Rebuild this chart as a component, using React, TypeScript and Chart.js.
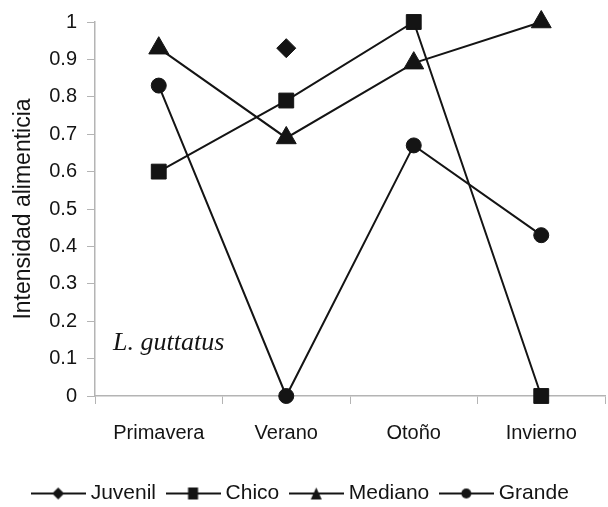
import React, { useEffect, useRef } from "react";
import { Chart, registerables } from "chart.js";

Chart.register(...registerables);

const categories = ["Primavera", "Verano", "Otoño", "Invierno"];
const juvenil = [null, 0.93, null, null];
const chico = [0.6, 0.79, 1.0, 0.0];
const mediano = [0.93, 0.69, 0.89, 1.0];
const grande = [0.83, 0.0, 0.67, 0.43];
const yTickLabels = ["0", "0.1", "0.2", "0.3", "0.4", "0.5", "0.6", "0.7", "0.8", "0.9", "1"];
const seriesNames = ["Juvenil", "Chico", "Mediano", "Grande"];
const speciesLabel = "L. guttatus";
const yTitle = "Intensidad alimenticia";

const INK = "#141414";
const AXIS = "#b4b4b4";
const FONT = "'Liberation Sans', Arial, sans-serif";

function makeIcon(kind: string): HTMLCanvasElement {
  const c = document.createElement("canvas");
  c.width = 55;
  c.height = 20;
  const ctx = c.getContext("2d")!;
  ctx.strokeStyle = INK;
  ctx.fillStyle = INK;
  ctx.lineWidth = 2;
  ctx.beginPath();
  ctx.moveTo(0, 10);
  ctx.lineTo(55, 10);
  ctx.stroke();
  const cx = 27.5;
  const cy = 10;
  ctx.beginPath();
  if (kind === "diamond") {
    ctx.moveTo(cx, cy - 6);
    ctx.lineTo(cx + 6, cy);
    ctx.lineTo(cx, cy + 6);
    ctx.lineTo(cx - 6, cy);
    ctx.closePath();
  } else if (kind === "square") {
    ctx.rect(cx - 5, cy - 6, 10, 12);
  } else if (kind === "triangle") {
    ctx.moveTo(cx, cy - 6);
    ctx.lineTo(cx + 5.5, cy + 6);
    ctx.lineTo(cx - 5.5, cy + 6);
    ctx.closePath();
  } else {
    ctx.arc(cx, cy, 5, 0, Math.PI * 2);
  }
  ctx.fill();
  return c;
}

export default function App() {
  const ref = useRef<HTMLCanvasElement | null>(null);

  useEffect(() => {
    if (!ref.current) return;
    const icons = [makeIcon("diamond"), makeIcon("square"), makeIcon("triangle"), makeIcon("circle")];

    const base = {
      borderColor: INK,
      backgroundColor: INK,
      pointBackgroundColor: INK,
      pointBorderColor: INK,
      borderWidth: 2,
      pointBorderWidth: 1,
      clip: false as const,
      spanGaps: false,
    };

    const labelPlugin = {
      id: "speciesLabel",
      afterDraw(chart: any) {
        const { ctx, chartArea } = chart;
        ctx.save();
        ctx.font = "italic 26px 'Liberation Serif', 'Times New Roman', serif";
        ctx.fillStyle = INK;
        ctx.textBaseline = "alphabetic";
        ctx.textAlign = "left";
        ctx.fillText(speciesLabel, chartArea.left + 18, chartArea.bottom - 46);
        ctx.restore();
      },
    };

    const chart = new Chart(ref.current, {
      type: "line",
      data: {
        labels: categories,
        datasets: [
          { ...base, label: seriesNames[0], data: juvenil, pointStyle: "rectRot", pointRadius: 9.5 },
          { ...base, label: seriesNames[1], data: chico, pointStyle: "rect", pointRadius: 10.5 },
          { ...base, label: seriesNames[2], data: mediano, pointStyle: "triangle", pointRadius: 11.5 },
          { ...base, label: seriesNames[3], data: grande, pointStyle: "circle", pointRadius: 7.5 },
        ],
      },
      options: {
        responsive: false,
        animation: false,
        layout: { autoPadding: false, padding: { left: 0, right: 3, top: 20, bottom: -7 } },
        plugins: {
          tooltip: { enabled: false },
          legend: {
            position: "bottom",
            align: "center",
            labels: {
              usePointStyle: true,
              pointStyleWidth: 44,
              boxHeight: 20,
              padding: 15,
              color: INK,
              font: { family: FONT, size: 21 },
              generateLabels: (ch: any) =>
                ch.data.datasets.map((ds: any, i: number) => ({
                  text: ds.label,
                  pointStyle: icons[i],
                  fillStyle: INK,
                  strokeStyle: INK,
                  lineWidth: 0,
                  hidden: false,
                  datasetIndex: i,
                  fontColor: INK,
                })),
            },
          },
        },
        scales: {
          x: {
            type: "category",
            offset: true,
            grid: {
              offset: true,
              drawOnChartArea: false,
              drawTicks: true,
              tickLength: 8,
              color: AXIS,
            },
            border: { display: true, color: AXIS, width: 1.5 },
            ticks: {
              color: INK,
              padding: 17,
              font: { family: FONT, size: 20 },
              maxRotation: 0,
            },
            afterFit: (s: any) => {
              s.height = 72;
            },
          },
          y: {
            min: 0,
            max: 1,
            ticks: {
              stepSize: 0.1,
              color: INK,
              padding: 10,
              font: { family: FONT, size: 20 },
              callback: (_v: any, i: number) => yTickLabels[i],
            },
            grid: {
              drawOnChartArea: false,
              drawTicks: true,
              tickLength: 8,
              color: AXIS,
            },
            border: { display: true, color: AXIS, width: 1.5 },
            title: {
              display: true,
              text: yTitle,
              color: INK,
              font: { family: FONT, size: 23 },
              padding: { top: 10, bottom: 0 },
            },
            afterFit: (s: any) => {
              s.width = 95;
            },
          },
        },
      },
      plugins: [labelPlugin],
    });
    return () => chart.destroy();
  }, []);

  return (
    <div style={{ position: "fixed", left: 0, top: 0, width: 608, height: 507, background: "#fff" }}>
      <canvas ref={ref} width={608} height={507} />
    </div>
  );
}
